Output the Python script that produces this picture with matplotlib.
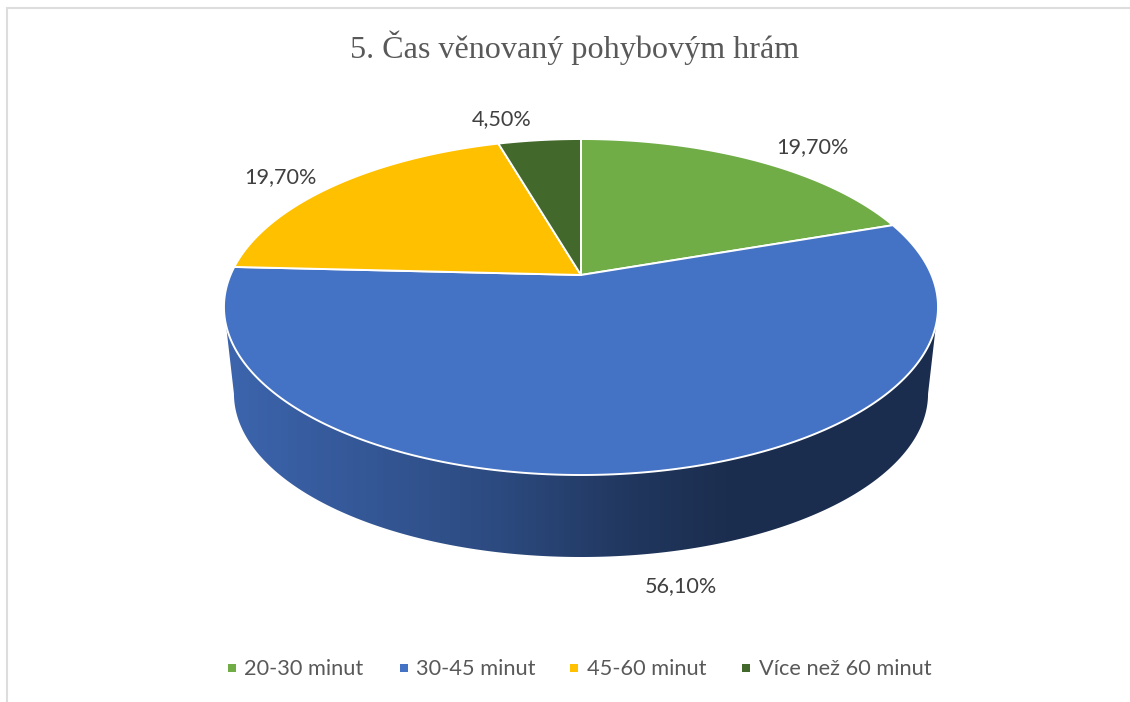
import numpy as np
import matplotlib
matplotlib.use('Agg')
import matplotlib.pyplot as plt
from matplotlib.colors import to_rgb

title = '5. Čas věnovaný pohybovým hrám'
categories = ['20-30 minut', '30-45 minut', '45-60 minut', 'Více než 60 minut']
values = [19.7, 56.1, 19.7, 4.5]
value_labels = ['19,70%', '56,10%', '19,70%', '4,50%']
colors = ['#70AD47', '#4472C4', '#FFC000', '#43682B']

label_pos = [(812, 147), (681, 586), (280, 177), (502, 119)]
legend_marker_x = [232, 404, 574, 746]
legend_text_x = [244, 416, 587, 759]
legend_y = 669

# pie in perspective, everything in image pixels
cx, cy = 581, 275
rx, ry = 350.5, 161.9
persp = 0.1905
wall_scale, wall_shift = 0.972, 95.3
# shading of the side wall along x
shade_x = [235, 300, 500, 630, 730]
shade_f = [0.88, 0.82, 0.65, 0.48, 0.40]


def top_face(t):
    x = np.sin(t)
    y = np.cos(t)
    d = 1 + persp * y
    return cx + rx * x / d, cy - ry * y / d


def bottom_face(t):
    x, y = top_face(t)
    return cx + wall_scale * (x - cx), wall_scale * y + wall_shift


fig = plt.figure(figsize=(11.30, 7.02), dpi=100)
ax = fig.add_axes([0, 0, 1, 1])
ax.set_xlim(0, 1130)
ax.set_ylim(702, 0)
ax.axis('off')

# frame, only top and left show up
ax.plot([7, 7, 1130], [702, 8, 8], color='#DDDDDD', lw=1.5, solid_joinstyle='miter')

edges = 2 * np.pi * np.concatenate([[0], np.cumsum(values)]) / np.sum(values)

# side wall: only the slice at the front can be seen
front = np.searchsorted(edges, np.pi) - 1
t = np.linspace(0, 2 * np.pi, 2000)
xt, _ = top_face(t)
t = np.linspace(t[np.argmax(xt)], t[np.argmin(xt)], 800)
x1, y1 = top_face(t)
x2, y2 = bottom_face(t)
grad_x = np.arange(220, 945)
grad = np.outer(np.interp(grad_x, shade_x, shade_f), to_rgb(colors[front]))[np.newaxis, :, :]
wall = ax.imshow(grad, extent=[220, 945, 570, 290], aspect='auto', interpolation='bilinear', zorder=2)
outline = plt.Polygon(np.c_[np.r_[x1, x2[::-1]], np.r_[y1, y2[::-1]]], closed=True,
                      transform=ax.transData, facecolor='none', edgecolor='none')
ax.add_patch(outline)
wall.set_clip_path(outline)
ax.set_xlim(0, 1130)
ax.set_ylim(702, 0)

# top face
for i in range(len(values)):
    t = np.linspace(edges[i], edges[i + 1], 300)
    x, y = top_face(t)
    ax.fill(np.r_[cx, x], np.r_[cy, y], facecolor=colors[i], edgecolor='white',
            lw=1.4, joinstyle='round', zorder=3)

for (x, y), lab in zip(label_pos, value_labels):
    ax.text(x, y, lab, fontsize=15.6, family='Lato', color='#404040', ha='center', va='center', zorder=5)

ax.text(575, 48, title, fontsize=23.1, family='Liberation Serif', color='#595959',
        ha='center', va='center')

for mx, tx, cat, col in zip(legend_marker_x, legend_text_x, categories, colors):
    ax.plot([mx], [legend_y - 1], marker='s', ms=5.6, color=col, mew=0, ls='None')
    ax.text(tx, legend_y, cat, fontsize=15.7, family='Lato', color='#595959', ha='left', va='center')

fig.savefig('out.png', dpi=100)
